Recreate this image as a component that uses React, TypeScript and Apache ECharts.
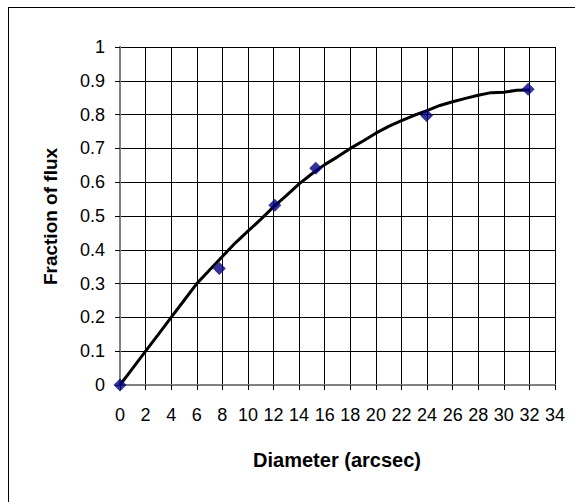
import React, { useEffect, useRef } from "react";
import * as echarts from "echarts";

const xTicks = [0, 34];
const curveX = [0, 1, 2, 3, 4, 5, 6, 7, 8, 9, 10, 11, 12, 13, 14, 15, 16, 17, 18, 19, 20, 21, 22, 23, 24, 25, 26, 27, 28, 29, 30, 31, 32];
const curveY = [0, 0.05, 0.1, 0.15, 0.2, 0.25, 0.3, 0.34, 0.38, 0.42, 0.455, 0.49, 0.527, 0.56, 0.595, 0.625, 0.652, 0.675, 0.7, 0.722, 0.745, 0.765, 0.782, 0.798, 0.812, 0.827, 0.838, 0.848, 0.857, 0.865, 0.866, 0.872, 0.873];
const measX = [0, 7.76, 12.1, 15.3, 23.96, 31.9];
const measY = [0, 0.345, 0.532, 0.641, 0.797, 0.875];
const xTitle = "Diameter (arcsec)";
const yTitle = "Fraction of flux";

export default function App() {
  const ref = useRef<HTMLDivElement>(null);
  useEffect(() => {
    const chart = echarts.init(ref.current!, null, { renderer: "svg" });
    const font = "Liberation Sans, Arial, sans-serif";
    chart.setOption({
      animation: false,
      backgroundColor: "#ffffff",
      grid: { left: 111, top: 39, width: 435, height: 338, show: false },
      xAxis: [
        {
          type: "value",
          min: xTicks[0],
          max: xTicks[1],
          interval: 2,
          axisLine: { show: true, onZero: false, lineStyle: { color: "#808080", width: 2 } },
          axisTick: { show: true, length: 5, lineStyle: { color: "#000", width: 1 } },
          axisLabel: { margin: 21, fontSize: 18, color: "#000", fontFamily: font },
          splitLine: { show: true, lineStyle: { color: "#000", width: 1 } },
        },
        {
          type: "value",
          position: "top",
          min: xTicks[0],
          max: xTicks[1],
          interval: 2,
          axisLine: { show: true, lineStyle: { color: "#808080", width: 2 } },
          axisTick: { show: false },
          axisLabel: { show: false },
          splitLine: { show: false },
        },
      ],
      yAxis: [
        {
          type: "value",
          min: 0,
          max: 1,
          interval: 0.1,
          axisLine: { show: true, onZero: false, lineStyle: { color: "#808080", width: 2 } },
          axisTick: { show: true, length: 5, lineStyle: { color: "#000", width: 1 } },
          axisLabel: { margin: 15, fontSize: 18, color: "#000", fontFamily: font },
          splitLine: { show: true, lineStyle: { color: "#000", width: 1 } },
        },
        {
          type: "value",
          position: "right",
          min: 0,
          max: 1,
          interval: 0.1,
          axisLine: { show: true, lineStyle: { color: "#808080", width: 2 } },
          axisTick: { show: false },
          axisLabel: { show: false },
          splitLine: { show: false },
        },
      ],
      graphic: [
        {
          type: "text",
          x: 328,
          y: 451.5,
          style: {
            text: xTitle,
            fontSize: 20,
            fontWeight: "bold",
            fontFamily: font,
            fill: "#000",
            align: "center",
            verticalAlign: "middle",
          },
        },
        {
          type: "text",
          x: 41,
          y: 208.5,
          rotation: Math.PI / 2,
          style: {
            text: yTitle,
            fontSize: 19,
            fontWeight: "bold",
            fontFamily: font,
            fill: "#000",
            align: "center",
            verticalAlign: "middle",
          },
        },
      ],
      series: [
        {
          type: "line",
          data: curveX.map((x, i) => [x, curveY[i]]),
          showSymbol: false,
          symbol: "none",
          lineStyle: { color: "#000", width: 3 },
          z: 3,
        },
        {
          type: "scatter",
          data: measX.map((x, i) => [x, measY[i]]),
          symbol: "diamond",
          symbolSize: 13,
          itemStyle: { color: "#000080" },
          z: 4,
        },
      ],
    });
    return () => chart.dispose();
  }, []);
  return (
    <div
      style={{
        position: "absolute",
        left: 8,
        top: 7,
        width: 567,
        height: 495,
        borderTop: "1px solid #000",
        borderLeft: "1px solid #000",
        boxSizing: "border-box",
        background: "#fff",
      }}
    >
      <div ref={ref} style={{ width: 566, height: 494 }} />
    </div>
  );
}
